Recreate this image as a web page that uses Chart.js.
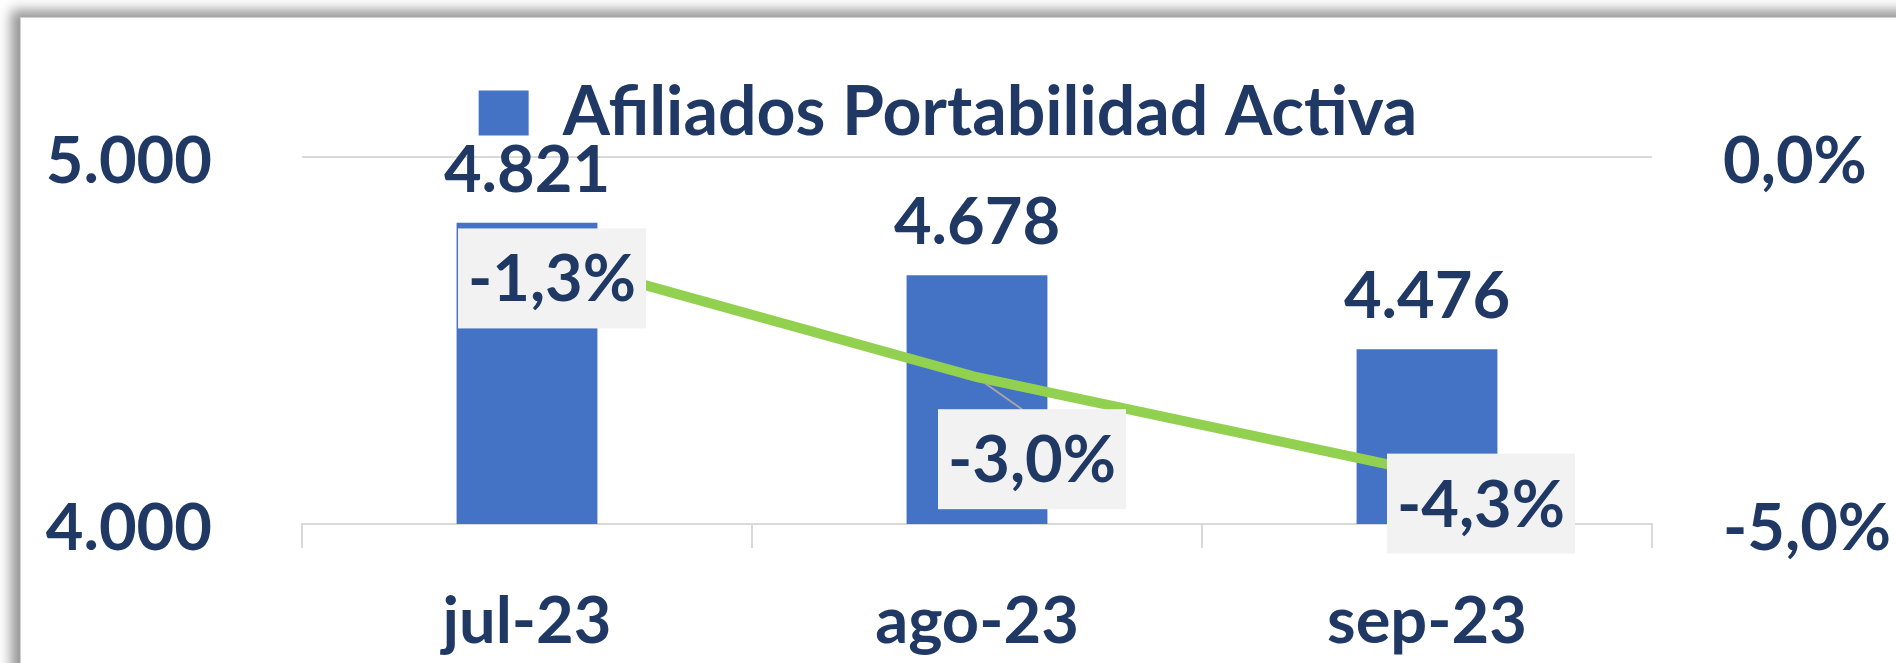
<!DOCTYPE html>
<html>
<head>
<meta charset="utf-8">
<script src="https://cdn.jsdelivr.net/npm/chart.js@4.4.0/dist/chart.umd.min.js"></script>
<style>
  html, body { margin: 0; padding: 0; background: #fff; overflow: hidden; }
  #frame {
    position: absolute; left: 20px; top: 17px; width: 1960px; height: 720px;
    background: #fff; border-left: 1px solid #d0d0d0; border-top: 1px solid #d0d0d0;
    box-shadow: -9px -7px 12px rgba(0, 0, 0, 0.42);
  }
  #wrap { position: absolute; left: 0; top: 0; width: 1896px; height: 663px; }
</style>
</head>
<body>
<div id="frame"></div>
<div id="wrap"><canvas id="chart" width="1896" height="663"></canvas></div>
<script>
const months = ['jul-23', 'ago-23', 'sep-23']
const afiliados = [4821, 4678, 4476]
const variacion = [-1.3, -3.0, -4.3]
const leftTicks = [4000, 5000]
const rightTicks = [-5, 0]

const navy = '#1F3864'
const blue = '#4472C4'
const green = '#92D050'
const gridGray = '#D9D9D9'

const fmtMiles = v => String(v).replace(/\B(?=(\d{3})+(?!\d))/g, '.')
const fmtPct = v => v.toFixed(1).replace('.', ',') + '%'

// labels over bars and boxed labels for the % line
const labelPlugin = {
  id: 'valueLabels',
  afterDatasetsDraw(chart, args, opts) {
    const ctx = chart.ctx
    ctx.save()
    ctx.font = 'bold 65px Lato'
    ctx.textAlign = 'center'
    ctx.textBaseline = 'middle'
    ctx.fillStyle = navy
    chart.getDatasetMeta(0).data.forEach((bar, i) => {
      ctx.fillText(fmtMiles(afiliados[i]), bar.x, bar.y - opts.barGap)
    })
    chart.getDatasetMeta(1).data.forEach((pt, i) => {
      const [dx, dy] = opts.offsets[i]
      const cx = pt.x + dx, cy = pt.y + dy
      const w = opts.boxW, h = opts.boxH
      if (opts.leader[i]) {
        ctx.strokeStyle = '#A6A6A6'
        ctx.lineWidth = 2
        ctx.beginPath()
        ctx.moveTo(pt.x + 8, pt.y + 6)
        ctx.lineTo(cx - w / 2 + 84, cy - h / 2)
        ctx.stroke()
      }
      ctx.fillStyle = '#F2F2F2'
      ctx.fillRect(cx - w / 2, cy - h / 2, w, h)
      ctx.fillStyle = navy
      ctx.fillText(fmtPct(variacion[i]), cx, cy + 2)
    })
    ctx.restore()
  }
}

function draw() {
  Chart.defaults.font.family = 'Lato'
  Chart.defaults.font.weight = 'bold'
  Chart.defaults.color = navy

  new Chart(document.getElementById('chart'), {
    data: {
      labels: months,
      datasets: [
        {
          type: 'bar',
          label: 'Afiliados Portabilidad Activa',
          data: afiliados,
          backgroundColor: blue,
          borderWidth: 0,
          yAxisID: 'y',
          categoryPercentage: 1,
          barPercentage: 0.313,
          order: 1
        },
        {
          type: 'line',
          label: 'Variación',
          data: variacion,
          borderColor: green,
          borderWidth: 10,
          pointRadius: 0,
          tension: 0,
          yAxisID: 'y1',
          order: 0
        }
      ]
    },
    options: {
      responsive: false,
      animation: false,
      events: [],
      layout: { padding: { top: 70, left: 0, right: 0, bottom: 0 } },
      plugins: {
        tooltip: { enabled: false },
        legend: {
          position: 'top',
          labels: {
            filter: item => item.datasetIndex === 0,
            boxWidth: 50,
            boxHeight: 45,
            padding: 9,
            color: navy,
            font: { size: 68, weight: 'bold' }
          }
        },
        valueLabels: {
          barGap: 52,
          boxW: 188,
          boxH: 100,
          offsets: [[25, 26], [55, 82], [54, 31]],
          leader: [false, true, false]
        }
      },
      scales: {
        x: {
          offset: true,
          grid: {
            display: true,
            drawOnChartArea: false,
            drawTicks: true,
            tickLength: 24,
            color: gridGray,
            lineWidth: 2
          },
          border: { display: true, color: gridGray, width: 2 },
          ticks: { padding: 35, font: { size: 65, weight: 'bold' }, color: navy },
          afterFit: s => { s.height = 139 }
        },
        y: {
          position: 'left',
          min: 4000,
          max: 5000,
          afterBuildTicks: s => { s.ticks = leftTicks.map(v => ({ value: v })) },
          grid: { color: gridGray, lineWidth: 2, drawTicks: false },
          border: { display: false },
          ticks: {
            padding: 90,
            labelOffset: 5,
            font: { size: 65, weight: 'bold' },
            color: navy,
            callback: v => fmtMiles(v)
          },
          afterFit: s => { s.width = 302 }
        },
        y1: {
          position: 'right',
          min: -5,
          max: 0,
          afterBuildTicks: s => { s.ticks = rightTicks.map(v => ({ value: v })) },
          grid: { display: false, drawTicks: false },
          border: { display: false },
          ticks: {
            padding: 71,
            labelOffset: 5,
            font: { size: 65, weight: 'bold' },
            color: navy,
            callback: v => fmtPct(v)
          },
          afterFit: s => { s.width = 244 }
        }
      }
    },
    plugins: [labelPlugin]
  })
}

document.fonts.load('bold 65px Lato').then(draw, draw)
</script>
</body>
</html>
